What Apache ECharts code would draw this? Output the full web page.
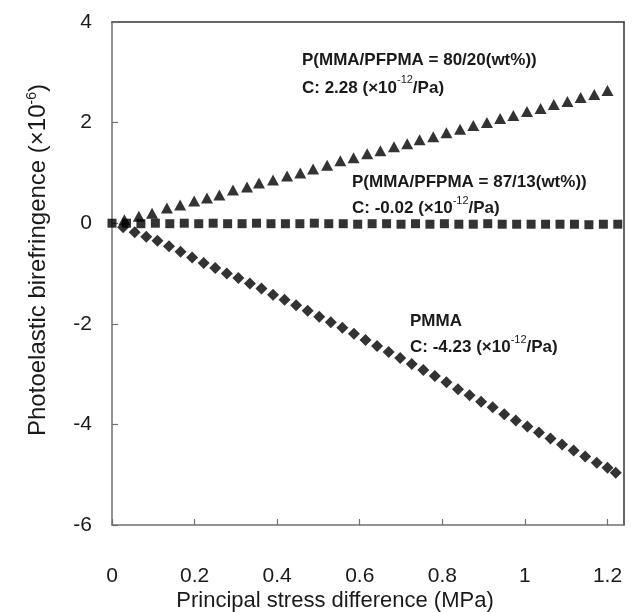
<!DOCTYPE html>
<html><head><meta charset="utf-8">
<script src="https://cdn.jsdelivr.net/npm/echarts@6/dist/echarts.min.js"></script>
<style>html,body{margin:0;padding:0;background:#fff}#c{width:640px;height:612px}</style>
</head><body><div id="c"></div>
<script>
// ---- data ----
var xTicks = [0, 0.2, 0.4, 0.6, 0.8, 1, 1.2];
var yTicks = [-6, -4, -2, 0, 2, 4];

var stressCopo20 = [0.03,0.065,0.097,0.133,0.165,0.199,0.23,0.26,0.293,0.327,0.356,0.39,0.424,0.456,0.487,0.521,0.553,0.585,0.618,0.65,0.683,0.715,0.745,0.778,0.81,0.843,0.875,0.908,0.94,0.972,1.005,1.038,1.07,1.103,1.135,1.168,1.2];
var biref20 = [0.07,0.14,0.2,0.3,0.36,0.44,0.5,0.56,0.66,0.72,0.8,0.86,0.94,1.0,1.08,1.15,1.24,1.3,1.38,1.44,1.52,1.58,1.66,1.72,1.8,1.87,1.94,2.0,2.08,2.14,2.22,2.28,2.36,2.42,2.5,2.56,2.64];

var stressCopo13 = [0,0.035,0.07,0.105,0.14,0.175,0.21,0.245,0.28,0.315,0.35,0.385,0.42,0.455,0.49,0.525,0.56,0.595,0.63,0.665,0.7,0.735,0.77,0.805,0.84,0.875,0.91,0.945,0.98,1.015,1.05,1.085,1.12,1.155,1.19,1.225];
var biref13 = [0,0,-0.01,0,-0.01,0,-0.01,0,-0.01,-0.01,0,-0.01,-0.01,-0.01,0,-0.01,-0.01,-0.02,-0.01,-0.01,-0.02,-0.01,-0.02,-0.01,-0.02,-0.02,-0.01,-0.02,-0.02,-0.02,-0.02,-0.02,-0.02,-0.03,-0.02,-0.02];

var stressPMMA = [0.027,0.055,0.083,0.11,0.138,0.166,0.194,0.222,0.25,0.278,0.306,0.334,0.362,0.39,0.418,0.446,0.474,0.502,0.53,0.558,0.586,0.614,0.642,0.67,0.698,0.726,0.754,0.782,0.81,0.838,0.866,0.894,0.922,0.95,0.978,1.006,1.034,1.062,1.09,1.118,1.146,1.174,1.2,1.22];
var birefPMMA = [-0.08,-0.18,-0.27,-0.35,-0.46,-0.57,-0.68,-0.79,-0.89,-1.0,-1.09,-1.2,-1.3,-1.42,-1.52,-1.63,-1.74,-1.86,-1.97,-2.08,-2.2,-2.32,-2.44,-2.56,-2.68,-2.8,-2.92,-3.04,-3.16,-3.3,-3.42,-3.55,-3.66,-3.8,-3.92,-4.04,-4.16,-4.28,-4.4,-4.52,-4.64,-4.76,-4.86,-4.96];

function pairs(xs, ys){ return xs.map(function(x,i){ return [x, ys[i]]; }); }

var FONT = '"Liberation Sans", Arial, sans-serif';
var TXT = '#1a1a1a';
var chart = echarts.init(document.getElementById('c'));
var axisCol = '#707070';
function richAnn(lh){
  return { b: { fontSize: 17, fontWeight: 'bold', fontFamily: FONT, fill: TXT, lineHeight: lh },
           s: { fontSize: 11, fontFamily: FONT, fill: TXT, verticalAlign: 'top', lineHeight: lh } };
}
chart.setOption({
  animation: false,
  backgroundColor: '#fff',
  grid: { left: 112, right: 16, top: 22, bottom: 87, containLabel: false },
  xAxis: [{
    type: 'value', min: xTicks[0], max: 1.24, interval: 0.2,
    axisLine: { show: true, onZero: false, lineStyle: { color: axisCol, width: 1.5 } },
    axisTick: { show: true, inside: true, length: 6, lineStyle: { color: axisCol, width: 1.2 } },
    splitLine: { show: false },
    axisLabel: { margin: 41, color: TXT, fontSize: 21, fontFamily: FONT, showMaxLabel: false,
      formatter: function(v){ return xTicks.indexOf(+v.toFixed(2)) >= 0 ? String(+v.toFixed(2)) : ''; } }
  }, {
    type: 'value', position: 'top', min: 0, max: 1.24,
    axisLine: { show: true, onZero: false, lineStyle: { color: '#333', width: 1.5 } },
    axisTick: { show: false }, axisLabel: { show: false }, splitLine: { show: false }
  }],
  yAxis: [{
    type: 'value', min: yTicks[0], max: yTicks[yTicks.length-1], interval: 2,
    axisLine: { show: true, onZero: false, lineStyle: { color: axisCol, width: 1.5 } },
    axisTick: { show: true, inside: true, length: 6, lineStyle: { color: axisCol, width: 1.2 } },
    splitLine: { show: false },
    axisLabel: { margin: 20, color: TXT, fontSize: 21, fontFamily: FONT }
  }, {
    type: 'value', position: 'right', min: -6, max: 4,
    axisLine: { show: true, onZero: false, lineStyle: { color: '#333', width: 1.5 } },
    axisTick: { show: false }, axisLabel: { show: false }, splitLine: { show: false }
  }],
  series: [
    { type: 'scatter', name: 'P(MMA/PFPMA = 80/20)', data: pairs(stressCopo20, biref20),
      symbol: 'triangle', symbolSize: [12, 11], itemStyle: { color: '#000' } },
    { type: 'scatter', name: 'P(MMA/PFPMA = 87/13)', data: pairs(stressCopo13, biref13),
      symbol: 'rect', symbolSize: 9, itemStyle: { color: '#000' } },
    { type: 'scatter', name: 'PMMA', data: pairs(stressPMMA, birefPMMA),
      symbol: 'diamond', symbolSize: [12, 12], itemStyle: { color: '#000' } }
  ],
  graphic: [
    { type: 'text', x: 335, y: 601, style: { text: 'Principal stress difference (MPa)', align: 'center', verticalAlign: 'middle',
      fontSize: 22, fontFamily: FONT, fill: TXT } },
    { type: 'text', x: 38, y: 260, rotation: Math.PI / 2, style: {
      text: '{t|Photoelastic birefringence (×10}{s|-6}{t|)}', align: 'center', verticalAlign: 'middle',
      rich: { t: { fontSize: 24, fontFamily: FONT, fill: TXT, lineHeight: 26 },
              s: { fontSize: 14, fontFamily: FONT, fill: TXT, verticalAlign: 'top', lineHeight: 26 } } } },
    { type: 'text', left: 302, top: 52, style: { text: '{b|P(MMA/PFPMA = 80/20(wt%))}\n{b|C: 2.28 (×10}{s|-12}{b|/Pa)}', rich: richAnn(28) } },
    { type: 'text', left: 352, top: 174, style: { text: '{b|P(MMA/PFPMA = 87/13(wt%))}\n{b|C: -0.02 (×10}{s|-12}{b|/Pa)}', rich: richAnn(26) } },
    { type: 'text', left: 410, top: 313, style: { text: '{b|PMMA}\n{b|C: -4.23 (×10}{s|-12}{b|/Pa)}', rich: richAnn(26) } }
  ]
});
</script></body></html>
